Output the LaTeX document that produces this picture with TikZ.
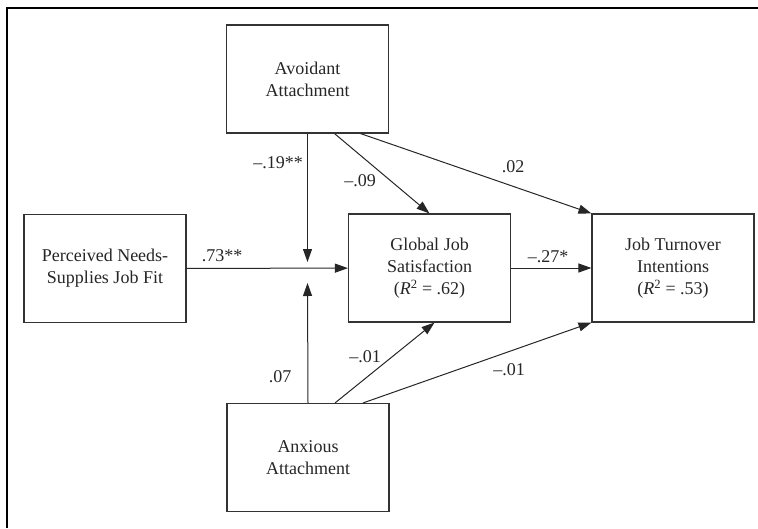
\documentclass[tikz,border=0pt]{standalone}
\usepackage{fontspec}
\setmainfont{Liberation Serif}
\usetikzlibrary{arrows.meta}

\begin{document}
\begin{tikzpicture}[x=1pt, y=-1pt,
    var/.style={draw=black!80, line width=1.1pt, minimum width=162pt, minimum height=108pt,
      inner sep=0pt, align=center, text=black!85, font=\fontsize{18}{22}\selectfont},
    coef/.style={inner sep=1pt, text=black!85, font=\fontsize{18}{22}\selectfont},
    arr/.style={draw=black!85, line width=1pt, -{Triangle[length=13pt,width=9pt]}}]
        \useasboundingbox (0,0) rectangle (758,528);
        \draw[line width=2pt] (7,528) -- (7,7.5) -- (758,7.5);

        \node[var] (avoid) at (307.5,79) {Avoidant\\Attachment};
        \node[var] (fit) at (105,268.5) {Perceived Needs-\\Supplies Job Fit};
        \node[var] (sat) at (429.5,268) {Global Job\\Satisfaction\\(\textit{R}\textsuperscript{2} = .62)};
        \node[var] (turn) at (673,268) {Job Turnover\\Intentions\\(\textit{R}\textsuperscript{2} = .53)};
        \node[var] (anx) at (308,457.5) {Anxious\\Attachment};

        \coordinate (mtop) at (307.5,262);
        \coordinate (mbot) at (307.5,283);

        \draw[arr] (fit) -- (sat);
        \draw[arr] (sat) -- (turn);
        \draw[arr] (avoid.south) -- (mtop);
        \draw[arr] (anx.north) -- (mbot);
        \draw[arr] ([xshift=27pt]avoid.south) -- (sat.north);
        \draw[arr] ([xshift=53pt]avoid.south) -- (turn.north west);
        \draw[arr] ([xshift=27pt]anx.north) -- ([xshift=5pt]sat.south);
        \draw[arr] ([xshift=55pt]anx.north) -- (turn.south west);

        \node[coef] (c19) at (278,163) {--.19**};
        \node[coef] (c09) at (360,181) {--.09};
        \node[coef] (c02) at (513,167) {.02};
        \node[coef] (c73) at (222,256) {.73**};
        \node[coef] (c27) at (548,257) {--.27*};
        \node[coef] (c07) at (280,377) {.07};
        \node[coef] (c01a) at (365,357) {--.01};
        \node[coef] (c01b) at (509,370) {--.01};
    \end{tikzpicture}
\end{document}
